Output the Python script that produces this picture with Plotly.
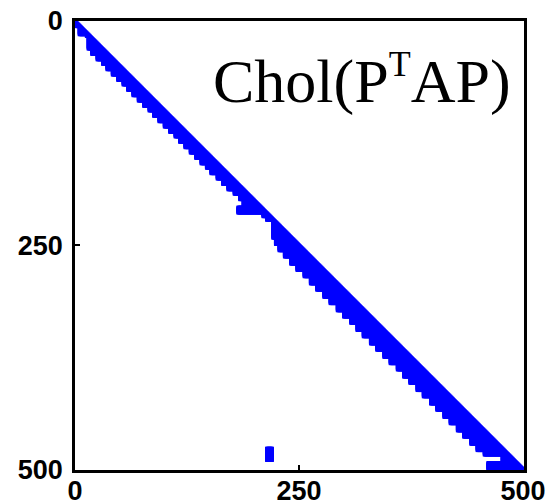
import plotly.graph_objects as go

# Sparsity pattern of the 500x500 Cholesky factor (lower triangular, envelope form).
n = 500

# Envelope staircase: from step_row[k] up to the next step, row i holds
# nonzeros in columns step_col[k] .. i (the diagonal).
step_row = [0, 3, 6, 9, 15, 17, 31, 37, 43, 48, 54, 60, 66, 71, 77, 83, 89, 95,
            100, 106, 112, 118, 124, 129, 135, 141, 147, 153, 159, 164, 170, 176,
            182, 188, 193, 199, 207, 214, 218, 222, 242, 249, 256, 263, 271, 278,
            285, 293, 300, 308, 315, 323, 330, 337, 345, 352, 360, 367, 375, 382,
            389, 397, 404, 412, 419, 427, 434, 442, 449, 457, 464, 472, 479, 484,
            492]
step_col = [0, 1, 4, 4, 12, 14, 18, 24, 30, 35, 41, 47, 53, 58, 64, 70, 76, 82,
            87, 93, 99, 105, 111, 116, 122, 128, 134, 140, 146, 151, 158, 164,
            170, 177, 183, 187, 181, 209, 213, 220, 223, 227, 233, 240, 247, 255,
            262, 269, 277, 284, 292, 299, 307, 314, 321, 329, 336, 344, 351, 359,
            366, 373, 381, 388, 396, 403, 411, 418, 426, 433, 441, 448, 456, 476,
            460]

# Detached block of fill below the band
block_rows = [477, 490]
block_cols = [214, 220]

cols, rows = [], []
for k, r0 in enumerate(step_row):
    r1 = step_row[k + 1] if k + 1 < len(step_row) else n
    for i in range(r0, r1):
        for j in range(step_col[k], i + 1):
            cols.append(j + 1)
            rows.append(i + 1)
for i in range(block_rows[0], block_rows[1] + 1):
    for j in range(block_cols[0], block_cols[1] + 1):
        cols.append(j)
        rows.append(i)

fig = go.Figure()
fig.add_trace(go.Scatter(
    x=cols, y=rows, mode="markers",
    marker=dict(symbol="square", size=3.6, color="#0000ff", line=dict(width=0)),
    hoverinfo="skip", showlegend=False,
))

tick_vals = [0, 250, 500]
tick_text = ["0", "250", "500"]
tick_font = dict(family="Liberation Sans, Arial, sans-serif", size=27,
                 color="black", weight="bold")

axis_common = dict(
    tickvals=tick_vals, ticktext=tick_text, tickfont=tick_font,
    showgrid=False, zeroline=False, automargin=False,
    showline=True, linecolor="black", linewidth=2.5, mirror=True,
    ticks="inside", ticklen=5, tickwidth=1.5, tickcolor="black",
)

fig.update_xaxes(range=[0, n + 1], ticklabelstandoff=-5, **axis_common)
fig.update_yaxes(range=[n + 1, 0], ticklabelstandoff=4, **axis_common)

fig.add_annotation(
    xref="paper", yref="paper", x=0.975, y=0.868,
    xanchor="right", yanchor="middle", showarrow=False,
    text="Chol(P<sup><span style='font-size:36px'>T</span></sup>AP)",
    font=dict(family="Liberation Serif, Times New Roman, serif", size=62, color="black"),
)

fig.update_layout(
    width=557, height=503,
    margin=dict(l=75, r=33, t=21, b=33),
    paper_bgcolor="white", plot_bgcolor="white",
)

fig.write_html("out.html")
